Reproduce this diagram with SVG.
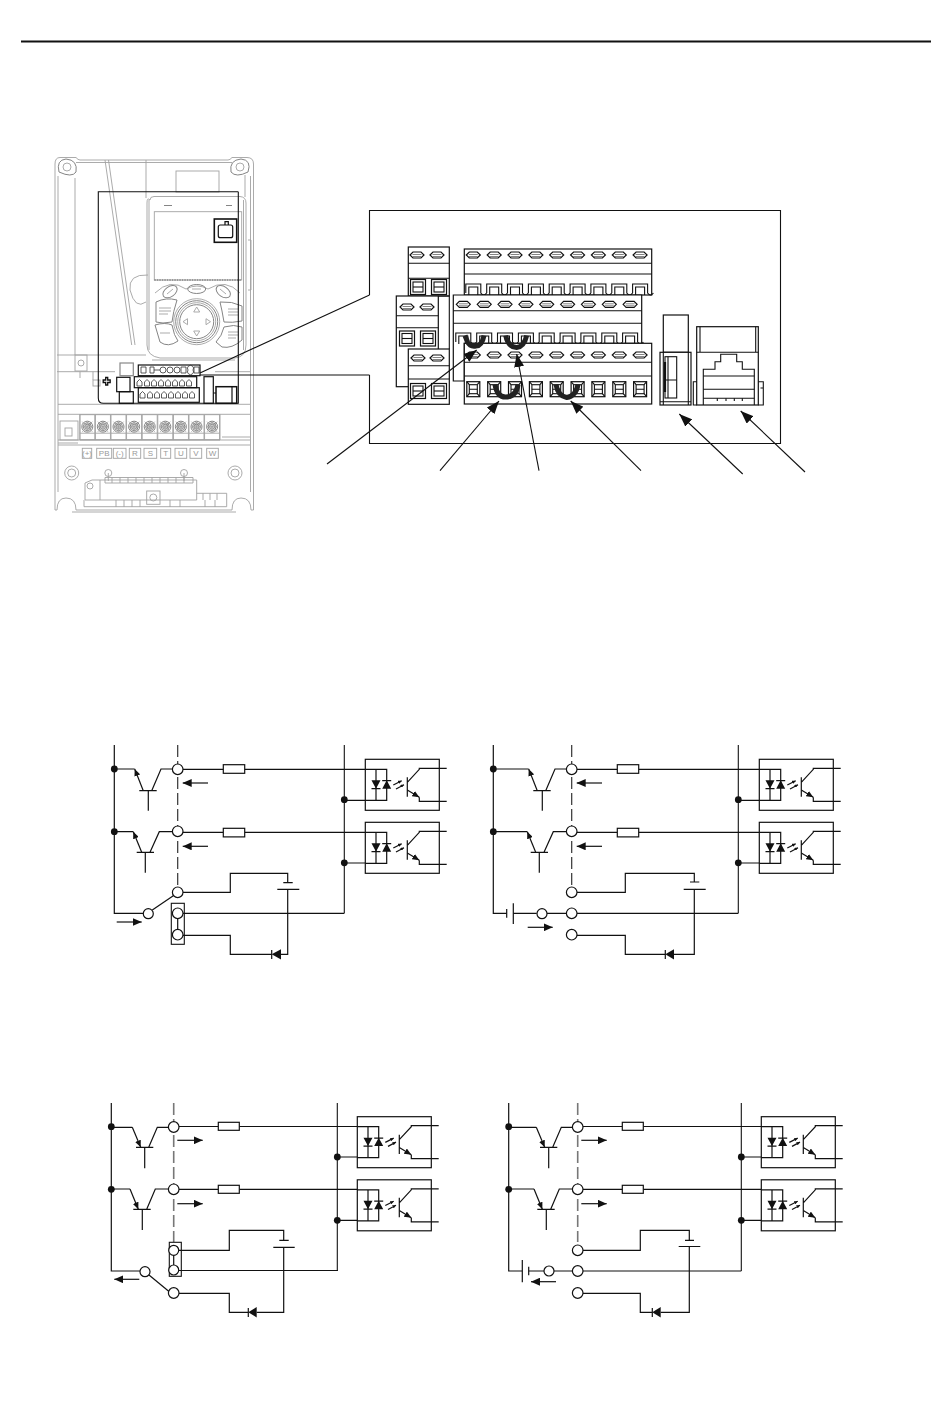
<svg xmlns="http://www.w3.org/2000/svg" xmlns:xlink="http://www.w3.org/1999/xlink" width="950" height="1424" viewBox="0 0 950 1424">
<style>
.k{fill:none;stroke:#111;stroke-width:1.1}
.w{fill:#fff;stroke:#111;stroke-width:1.2}
.t{fill:none;stroke:#111;stroke-width:1.2}
.g{fill:none;stroke:#a2a2a2;stroke-width:.9}
.gd{fill:none;stroke:#858585;stroke-width:1}
.s{fill:#111;stroke:none}
.j{fill:none;stroke:#222;stroke-width:5}
.dash{fill:none;stroke:#333;stroke-width:1.2;stroke-dasharray:12 4}
.dash2{fill:none;stroke:#777;stroke-width:1.6;stroke-dasharray:12 4}
.lab{font-family:"Liberation Sans",Arial,sans-serif;font-size:8px;fill:#999;text-anchor:middle}
</style>
<defs>
<marker id="ah" markerUnits="userSpaceOnUse" markerWidth="9" markerHeight="8" refX="9" refY="4" orient="auto"><path d="M0 0L9 4L0 8Z" fill="#111"/></marker>
<marker id="ahl" markerUnits="userSpaceOnUse" markerWidth="13" markerHeight="10" refX="13" refY="5" orient="auto"><path d="M0 0L13 5L0 10Z" fill="#111"/></marker>
<marker id="aht" markerUnits="userSpaceOnUse" markerWidth="7" markerHeight="6" refX="7" refY="3" orient="auto"><path d="M0 0L7 3L0 6Z" fill="#111"/></marker>
<marker id="ahp" markerUnits="userSpaceOnUse" markerWidth="3.500" markerHeight="3.500" refX="3.500" refY="1.750" orient="auto"><path d="M0 0L3.500 1.750L0 3.500Z" fill="#111"/></marker>
<g id="opto">
<rect class="t" width="74" height="51"/>
<path class="t" d="M0 10H21.4V41H0M10.700 10V41"/>
<path class="s" d="M6.200 21H15.200L10.700 29.400ZM16.900 29.400H25.900L21.400 21Z"/>
<path class="t" d="M6.200 29.400H15.200M16.900 21.400H25.900"/>
<path class="t" marker-end="url(#ahp)" d="M28 25.700L36.400 21.400"/>
<path class="t" marker-end="url(#ahp)" d="M30.700 29.700L38.700 25.400"/>
<path class="t" d="M42 18V37.400M42 23L54 10V9H81.400M54 38V42H81.400"/>
<path class="t" marker-end="url(#aht)" d="M42 30.700L54 38"/>
</g>
<g id="ov"><path class="w" stroke-width="1" d="M-7 0L-4 -3H4L7 0L4 3H-4Z"/><path class="gd" d="M-4.500 -.500H4.500M-4.500 1.500H4.500"/></g>
<g id="cl"><path class="k" d="M-7.500 9V0H7.500V9Q10.400 13 13.300 9"/><path class="k" d="M-4.500 11V3H4.500V11"/></g>
<g id="sq"><rect class="w" stroke-width="1" x="-6.500" y="-7.500" width="13" height="15"/><rect class="k" x="-4" y="-4.500" width="8" height="9"/><path class="k" d="M-4 0H4M-6.500 -7.500L-4 -4.500M6.500 -7.500L4 -4.500M-6.500 7.500L-4 4.500M6.500 7.500L4 4.500"/></g>
<g id="sqb"><rect class="w" stroke-width="1" x="-7.500" y="-7.500" width="15" height="15"/><rect class="k" x="-5" y="-5" width="10" height="10"/><path class="k" d="M-5 0H5"/></g>
<g id="scr"><rect class="g" x="-7.500" y="-12" width="15" height="25"/><circle class="gd" r="5.500"/><circle class="gd" r="4"/><circle class="gd" r="2.500"/><path class="g" d="M-5 -5L5 5M-5 5L5 -5M-5 0H5M0 -5V5M-7.500 6.500H7.500"/></g>

<g id="stage-top">
<path class="k" d="M344.300 745V913.300"/>
<path class="t" d="M183 769.300H223.300M244.700 769.300H365.300M183 832.300H223.300M244.700 832.300H365.300M344.300 800.300H365.300M344.300 863H365.300"/>
<path class="dash" d="M177.700 745V889"/>
<g id="a-npn1"><path class="t" marker-end="url(#aht)" d="M143.300 790.700L134.700 769"/><path class="t" d="M151.700 790.700L161 769H172.400M139.300 790.700H156.700M148.300 790.700V810.700"/></g>
<g id="a-npn2"><path class="t" marker-end="url(#aht)" d="M141.700 852.300L133.300 831.700"/><path class="t" d="M150 852.300L159.300 831.700H172.400M136.700 852.300H154M145.300 852.300V872.700"/></g>
<circle class="w" cx="177.700" cy="769.300" r="5.300"/>
<circle class="w" cx="177.700" cy="831.300" r="5.300"/>
<rect class="w" x="223.300" y="764.700" width="21.400" height="8.600"/>
<rect class="w" x="223.300" y="828.300" width="21.400" height="8.600"/>
<path class="t" marker-end="url(#ah)" d="M208 783H182.700"/>
<path class="t" marker-end="url(#ah)" d="M208 846.300H182.700"/>
<circle class="s" cx="344.300" cy="799.700" r="3.400"/>
<circle class="s" cx="344.300" cy="862.800" r="3.400"/>
<use href="#opto" xlink:href="#opto" x="365.300" y="759.300"/>
<use href="#opto" xlink:href="#opto" x="365.300" y="822.300"/>
</g>

<g id="stage-bottom">
<path class="k" d="M337.300 1103V1271"/>
<path class="t" d="M179 1126.500H218.300M239.300 1126.500H357.300M179 1189.300H218.300M239.300 1189.300H357.300M337.300 1157H357.300M337.300 1220.300H357.300"/>
<path class="dash2" d="M173.700 1103V1242"/>
<g id="c-pnp1"><path class="t" marker-end="url(#aht)" d="M132.300 1127.300L140.700 1147.300"/><path class="t" d="M148.700 1147.300L157.300 1127.300H168.400M136 1147.300H153.300M144.700 1147.300V1168.300"/></g>
<g id="c-pnp2"><path class="t" marker-end="url(#aht)" d="M130 1189L138.300 1209.300"/><path class="t" d="M146.700 1209.300L155.300 1189H168.400M133.300 1209.300H150.700M142.300 1209.300V1230"/></g>
<circle class="w" cx="173.700" cy="1127" r="5.300"/>
<circle class="w" cx="173.700" cy="1189.300" r="5.300"/>
<rect class="w" x="218.300" y="1122.300" width="21" height="8"/>
<rect class="w" x="218.300" y="1185.300" width="21" height="8"/>
<path class="t" marker-end="url(#ah)" d="M177.300 1140.300H202.700"/>
<path class="t" marker-end="url(#ah)" d="M177.300 1203.700H202.700"/>
<circle class="s" cx="337.300" cy="1157" r="3.400"/>
<circle class="s" cx="337.300" cy="1220.300" r="3.400"/>
<use href="#opto" xlink:href="#opto" x="357.300" y="1116.700"/>
<use href="#opto" xlink:href="#opto" x="357.300" y="1179.800"/>
</g>
</defs>

<rect width="950" height="1424" fill="#fff"/>
<path id="top-rule" d="M21 41.500H931" stroke="#111" stroke-width="2" fill="none"/>

<g id="device">
<path class="g" d="M60 157.500H76Q78 160 80 160H228Q230 160 232 157.500H247Q253.500 157.500 253.500 164V510H251Q251 498 241 498Q232 498 232 510H76Q76 498 66 498Q57 498 57 510H55V164Q55 157.500 60 157.500Z"/>
<path class="g" d="M58 176V492M250.500 176V492M76 162.500H232M72 512H236"/>
<path class="gd" d="M59 172Q56 160 66 159Q78 160 76 172Q72 178 59 172ZM248 172Q252 160 241 159Q229 160 231 172Q236 178 248 172Z"/>
<circle class="g" cx="67" cy="167" r="4"/><circle class="g" cx="240" cy="167" r="4"/>
<path class="g" d="M75 178V355M245 175V197"/>
<path class="g" d="M105 160L131.700 345M146 160V198M108.500 160L135 345"/>
<rect class="g" x="176" y="171" width="43" height="21"/>
<path class="g" d="M150 200Q150 196.500 154 196.500H240Q246 197 246 203V345Q246 357 235 358H160Q147 356 147 345V203Q147 197 150 200"/>
<path class="g" d="M149 200V350M243.500 200V350M152 360H235"/>
<rect class="g" x="154.300" y="211.700" width="87.400" height="68.300"/>
<path class="gd" d="M164 205.500H172M226 205.500H232"/>
<path d="M154.300 280H241.700" stroke="#858585" stroke-width="1.600" stroke-dasharray="1.500 1" fill="none"/>
<path class="g" d="M130 290Q128 274 148 275M130 290Q135 310 146 302M248 240H251V290H248"/>
<g id="keypad">
<path class="g" d="M155 293Q170 278 186 289Q197 283 208 289Q226 278 240 293"/>
<ellipse class="gd" cx="170" cy="291.700" rx="8" ry="5" transform="rotate(-35 170 291.700)"/>
<ellipse class="gd" cx="196.700" cy="289" rx="9" ry="4.500"/>
<ellipse class="gd" cx="223.300" cy="291.700" rx="8" ry="5" transform="rotate(35 223.300 291.700)"/>
<path class="g" d="M192 289H201M167 294L173 289M220 289L226 294"/>
<circle class="gd" cx="196.700" cy="321.700" r="17"/><circle class="g" cx="196.700" cy="321.700" r="19"/><circle class="gd" cx="196.700" cy="321.700" r="21"/><circle class="g" cx="196.700" cy="321.700" r="23"/>
<path class="g" d="M196.700 307L193.700 312H199.700ZM196.700 336L193.700 331H199.700ZM183 321.700L187.500 318.700V324.700ZM210.500 321.700L206 318.700V324.700Z"/>
<path class="gd" d="M156 302Q166 297 177 300Q173 312 172 322Q162 324 156 322Z"/>
<path class="gd" d="M155 325Q165 322 172 325Q174 336 178 341Q168 348 160 342Z"/>
<path class="gd" d="M220 302Q232 301 242 306V321Q232 323 224 322Q222 310 220 302Z"/>
<path class="gd" d="M216 342Q222 336 224 327Q234 324 242 327V340Q232 349 222 347Z"/>
<path class="g" d="M159 308H171M159 311H171M159 314H168M228 309H238M228 312H238M228 315H238M160 333H170M228 332H238M228 335H238M228 338H236"/>
</g>
<path class="g" d="M57 355H146M57 371.700H115M215 371.700H250M58 404.300H250M58 414.300H250M58 440H250M58 445H250M58 443H78M222 437H250"/>
<rect class="g" x="75" y="355" width="12" height="16"/><circle class="g" cx="81" cy="363" r="3"/>
<path class="g" d="M93 371.700V380M80 371.700V378"/>
<rect class="g" x="93" y="380" width="7" height="6"/>

<path id="device-outline" class="k" d="M238.300 191.700H98.300V398Q98.300 403.300 103.300 403.300H238.300V191.700"/>
<g id="device-bezel" fill="none" stroke="#111" stroke-width="1.200">
<rect x="214.300" y="219" width="22.400" height="23.300" stroke-width="1.600"/>
<rect x="218.300" y="225" width="14.400" height="12.700" rx="2"/>
<path d="M225 225V221.700H228.300V225"/>
<path d="M105.700 377.500h2v2.500h2.500v2.500h-2.500v2.500h-2v-2.500h-2.500v-2.500h2.500z" stroke-width="1.300"/>
<rect x="120" y="363" width="13.300" height="12.700" stroke="#888"/>
<rect x="116.700" y="377.300" width="13.300" height="14.400"/>
<rect x="119.300" y="391.700" width="14" height="11.600"/>
<rect x="138.300" y="365" width="61.700" height="10.700"/>
<rect x="134.300" y="376.700" width="62.400" height="11"/>
<rect x="138.300" y="387.700" width="61" height="14.600"/>
<rect x="204" y="376.700" width="9.300" height="26.600"/>
<rect x="216" y="386.700" width="20.700" height="16.600" stroke-width="1.500"/>
<path d="M213.300 393H216M232 386.700V403"/>
</g>
<g id="device-terminals" fill="none" stroke="#333" stroke-width=".8">
<path d="M141 367H146V373H141ZM150 367H154V373H150ZM154 370H160M160 370a3 3 0 1 0 6 0a3 3 0 1 0 -6 0M167 370a3 3 0 1 0 6 0a3 3 0 1 0 -6 0M174 370a3 3 0 1 0 6 0a3 3 0 1 0 -6 0M181 367H186V373H181ZM188 370a3 3 0 1 0 5 0a3 3 0 1 0 -5 0M194 367H199V373H194Z"/>
<path id="device-row2" d="M137 386V382L139.500 379.500L142 382V386ZM144.500 386V382L147 379.500L149.500 382V386ZM151.500 386V382L154 379.500L156.500 382V386ZM158.500 386V382L161 379.500L163.500 382V386ZM165.500 386V382L168 379.500L170.500 382V386ZM172.500 386V382L175 379.500L177.500 382V386ZM179.500 386V382L182 379.500L184.500 382V386ZM186.500 386V382L189 379.500L191.500 382V386Z"/>
<use href="#device-row2" xlink:href="#device-row2" x="3" y="12"/>
</g>
<path class="g" d="M80 414.300V440H220V414.300"/>
<use href="#scr" xlink:href="#scr" x="87.300" y="426.700"/><use href="#scr" xlink:href="#scr" x="102.900" y="426.700"/><use href="#scr" xlink:href="#scr" x="118.500" y="426.700"/><use href="#scr" xlink:href="#scr" x="134.100" y="426.700"/><use href="#scr" xlink:href="#scr" x="149.700" y="426.700"/><use href="#scr" xlink:href="#scr" x="165.300" y="426.700"/><use href="#scr" xlink:href="#scr" x="180.900" y="426.700"/><use href="#scr" xlink:href="#scr" x="196.500" y="426.700"/><use href="#scr" xlink:href="#scr" x="212.100" y="426.700"/>
<rect class="g" x="60" y="421" width="18" height="19"/><rect class="g" x="65" y="428" width="7" height="8"/>
<g id="device-labels">
<rect class="g" x="82.300" y="448.300" width="9.400" height="10"/><rect class="g" x="96.700" y="448.300" width="15" height="10"/><rect class="g" x="113.300" y="448.300" width="12.700" height="10"/><rect class="g" x="129.300" y="448.300" width="11.400" height="10"/><rect class="g" x="144" y="448.300" width="12.700" height="10"/><rect class="g" x="160.700" y="448.300" width="10" height="10"/><rect class="g" x="175" y="448.300" width="11.700" height="10"/><rect class="g" x="190" y="448.300" width="11.700" height="10"/><rect class="g" x="206.700" y="448.300" width="11.600" height="10"/>
<text class="lab" x="87" y="456.300">(+)</text><text class="lab" x="104.200" y="456.300">PB</text><text class="lab" x="119.700" y="456.300">(-)</text><text class="lab" x="135" y="456.300">R</text><text class="lab" x="150.300" y="456.300">S</text><text class="lab" x="165.700" y="456.300">T</text><text class="lab" x="180.800" y="456.300">U</text><text class="lab" x="195.800" y="456.300">V</text><text class="lab" x="212.500" y="456.300">W</text>
</g>
<circle class="g" cx="71.700" cy="473" r="7"/><circle class="g" cx="71.700" cy="473" r="4"/>
<circle class="g" cx="235" cy="473" r="7"/><circle class="g" cx="235" cy="473" r="4"/>
<circle class="g" cx="108.300" cy="473" r="3.500"/><circle class="g" cx="184" cy="473" r="3.500"/>
<path class="g" d="M108.300 473V481M184 473V481"/>
<path class="g" d="M85 483L92 480H100V500H85ZM100 480H196.700V500H100M196.700 493.300H226.700V506.700H84V500"/>
<path class="g" d="M105 477.500H193V483H105ZM112 477.500V483M120 477.500V483M128 477.500V483M136 477.500V483M144 477.500V483M152 477.500V483M160 477.500V483M168 477.500V483M176 477.500V483M184 477.500V483M203 493.300V500M210 493.300V500M217 493.300V500M116 500V507M124 500V507M132 500V507M140 500V507M170 500V507M180 500V507M205 500V507M215 500V507"/>
<circle class="g" cx="90" cy="486" r="3"/>
<rect class="g" x="146.700" y="491" width="13.300" height="13.300"/><circle class="g" cx="153.300" cy="497.500" r="3.500"/>
</g>

<g id="leader-panel" fill="none" stroke="#111" stroke-width="1.100">
<path d="M369.500 295V210.500H780.500V443.500H369.500V375M369.500 295L200 373M369.500 375H200"/>
</g>

<g id="terminal-blocks">
<g id="tb-left">
<rect class="w" stroke-width="1" x="408.300" y="247" width="41" height="49"/>
<path class="k" d="M408.300 263.300H449.300M408.300 278.300H449.300"/>
<use href="#ov" xlink:href="#ov" x="417" y="255"/><use href="#ov" xlink:href="#ov" x="437" y="255"/>
<use href="#sqb" xlink:href="#sqb" x="418" y="287"/><use href="#sqb" xlink:href="#sqb" x="439" y="287"/>
<path class="k" d="M438.300 296H449.300V349"/>
<rect class="w" stroke-width="1" x="396.300" y="296" width="42" height="90.700"/>
<path class="k" d="M396.300 315.700H438.300M396.300 327.700H438.300"/>
<use href="#ov" xlink:href="#ov" x="407" y="307"/><use href="#ov" xlink:href="#ov" x="427" y="307"/>
<use href="#sqb" xlink:href="#sqb" x="407" y="338.500"/><use href="#sqb" xlink:href="#sqb" x="428" y="338.500"/>
<rect class="w" stroke-width="1" x="408.300" y="349" width="41" height="55.300"/>
<path class="k" d="M408.300 365.700H449.300M408.300 379H449.300"/>
<use href="#ov" xlink:href="#ov" x="418" y="358"/><use href="#ov" xlink:href="#ov" x="437" y="358"/>
<use href="#sqb" xlink:href="#sqb" x="418" y="391"/><use href="#sqb" xlink:href="#sqb" x="439" y="391"/>
</g>
<g id="tb-main">
<rect class="w" stroke-width="1" x="464.300" y="249" width="187.400" height="46"/>
<path class="k" d="M464.300 263.300H651.700M464.300 274H651.700"/>
<g id="row-top-ov"><use href="#ov" xlink:href="#ov" x="473.300" y="255"/><use href="#ov" xlink:href="#ov" x="494.200" y="255"/><use href="#ov" xlink:href="#ov" x="515" y="255"/><use href="#ov" xlink:href="#ov" x="535.900" y="255"/><use href="#ov" xlink:href="#ov" x="556.700" y="255"/><use href="#ov" xlink:href="#ov" x="577.600" y="255"/><use href="#ov" xlink:href="#ov" x="598.400" y="255"/><use href="#ov" xlink:href="#ov" x="619.300" y="255"/><use href="#ov" xlink:href="#ov" x="640.100" y="255"/></g>
<g id="row-top-cl"><use href="#cl" xlink:href="#cl" x="473.300" y="284"/><use href="#cl" xlink:href="#cl" x="494.200" y="284"/><use href="#cl" xlink:href="#cl" x="515" y="284"/><use href="#cl" xlink:href="#cl" x="535.900" y="284"/><use href="#cl" xlink:href="#cl" x="556.700" y="284"/><use href="#cl" xlink:href="#cl" x="577.600" y="284"/><use href="#cl" xlink:href="#cl" x="598.400" y="284"/><use href="#cl" xlink:href="#cl" x="619.300" y="284"/><use href="#cl" xlink:href="#cl" x="640.100" y="284"/></g>
<path class="w" stroke-width="1" d="M453.300 381V295H641.700V343.300H464.300V381Z"/>
<path class="k" d="M453.300 310.700H641.700M453.300 323.300H641.700"/>
<use href="#row-top-ov" xlink:href="#row-top-ov" x="-10" y="49.300"/>
<use href="#row-top-cl" xlink:href="#row-top-cl" x="-10" y="49"/>
<rect class="w" stroke-width="1" x="464.300" y="343.300" width="187.400" height="60.700"/>
<path class="k" d="M464.300 362.300H651.700M464.300 376H651.700"/>
<use href="#row-top-ov" xlink:href="#row-top-ov" y="100"/>
<use href="#sq" xlink:href="#sq" x="473.300" y="389.200"/><use href="#sq" xlink:href="#sq" x="494.200" y="389.200"/><use href="#sq" xlink:href="#sq" x="515" y="389.200"/><use href="#sq" xlink:href="#sq" x="535.900" y="389.200"/><use href="#sq" xlink:href="#sq" x="556.700" y="389.200"/><use href="#sq" xlink:href="#sq" x="577.600" y="389.200"/><use href="#sq" xlink:href="#sq" x="598.400" y="389.200"/><use href="#sq" xlink:href="#sq" x="619.300" y="389.200"/><use href="#sq" xlink:href="#sq" x="640.100" y="389.200"/>
</g>
<g id="usb">
<rect class="w" stroke-width="1" x="663.300" y="315" width="25" height="37.300"/>
<rect class="w" stroke-width="1" x="660" y="352.300" width="31" height="52.700"/>
<path class="k" d="M663.300 352.300V405M688.300 352.300V405M660 401.700H691"/>
<rect class="k" x="665" y="356.700" width="11.700" height="41.300"/>
<path class="k" d="M668 356.700V398M665 380H676.700"/>
<path d="M665 362V392" stroke="#111" stroke-width="2.200"/>
</g>
<g id="rj45">
<rect class="w" stroke-width="1" x="696.700" y="326.700" width="61.600" height="78.300"/>
<path class="k" d="M696.700 352.300H758.300M700 326.700V352.300M755.700 326.700V352.300"/>
<path class="k" d="M703.300 405V369.300H715V361.700H720.700V354.300H736.700V361.700H742.300V369.300H754.300V405"/>
<path class="k" d="M703.300 398.300H754.300M703.300 389.300H754.300M703.300 376H754.300"/>
<path class="k" d="M717.300 398.300V401M726 398.300V401M734.300 398.300V401M742.300 398.300V401" stroke-width="1.600"/>
<path class="k" d="M696.700 381.700H693.300V405H696.700M758.300 381.700H763.300V405H758.300M760.500 388H763.300"/>
</g>
</g>

<g id="jumpers">
<path class="j" d="M465 335.500L467.500 342Q470 347 476 346Q482 346 484 335.500"/>
<path class="j" d="M505.700 335.500Q508 347 516.700 347.500Q524 347 526.700 335.500"/>
<path class="j" d="M495 384.500Q497 397 505.500 397Q516 397 518 384.500"/>
<path class="j" d="M556 384.500Q558 396 566.700 397.500Q576 396 578 384.500"/>
</g>

<g id="leaders" fill="none" stroke="#111" stroke-width="1.100">
<path marker-end="url(#ahl)" d="M327 464L476.700 350"/>
<path marker-end="url(#ahl)" d="M440 470.700L499 401"/>
<path marker-end="url(#ahl)" d="M539 470.700L516.700 354"/>
<path marker-end="url(#ahl)" d="M641 470.700L570.700 401"/>
<path marker-end="url(#ahl)" d="M742.700 474L679.300 414"/>
<path marker-end="url(#ahl)" d="M805 472L740.700 411"/>
</g>

<g id="circuit-a">
<g id="a-connectors">
<path class="t" d="M114.300 745V913.300H143.300M114.300 769H134.700M114.300 831.700H133.300"/>
<path class="t" d="M183 892.300H230.300V873.300H287.700V882.700M287.700 889.300V954.300H281M271.700 954.300H230.300V935.300H183M183 913.300H344.300M177.700 919V929"/>
<path class="t" d="M152.300 910L173.300 895.700"/>
</g>
<use href="#stage-top" xlink:href="#stage-top"/>
<g id="a-rail-dots"><circle class="s" cx="114.300" cy="769" r="3.400"/><circle class="s" cx="114.300" cy="831.700" r="3.400"/></g>
<g id="a-battery"><path class="t" d="M283.300 882.700H292.700M277.300 889.300H299.300"/></g>
<g id="a-diode"><path class="s" d="M271.700 954.300L281 949.200V959.500Z"/><path class="t" d="M271.700 950V959"/></g>
<g id="a-switch"><circle class="w" cx="148.300" cy="913.700" r="5"/><circle class="w" cx="177.700" cy="892.300" r="5.300"/><path class="t" marker-end="url(#ah)" d="M116.700 922H141.700"/></g>
<g id="a-jumper"><rect class="k" x="171.300" y="903.300" width="13" height="41"/><circle class="w" cx="177.700" cy="913.300" r="5.300"/><circle class="w" cx="177.700" cy="934.700" r="5.300"/></g>
</g>

<g id="circuit-b">
<g id="b-connectors">
<path class="t" d="M493.300 745V913.300H506.700M513.300 913.300H536.700M547 913.300H566.400M493.300 769H528.700M493.300 831.700H527.300"/>
<path class="t" d="M577 892.300H625.300V873.300H694.300V882M694.300 889.300V954.300H674M665.300 954.300H625.300V935.300H577M577 913.300H738.300"/>
</g>
<use href="#stage-top" xlink:href="#stage-top" x="394"/>
<g id="b-rail-dots"><circle class="s" cx="493.300" cy="769" r="3.400"/><circle class="s" cx="493.300" cy="831.700" r="3.400"/></g>
<g id="b-battery"><path class="t" d="M690 882H699.300M683.700 889.300H705.700"/></g>
<g id="b-diode"><path class="s" d="M665.300 954.300L674 949.200V959.500Z"/><path class="t" d="M665.300 950V959"/></g>
<g id="b-source"><path class="t" d="M506.700 909V917.700M513.300 903.300V924"/><circle class="w" cx="542" cy="913.700" r="5"/><path class="t" marker-end="url(#ah)" d="M527.700 927.300H552.700"/></g>
<g id="b-terminals"><circle class="w" cx="571.700" cy="892.300" r="5.300"/><circle class="w" cx="571.700" cy="913.300" r="5.300"/><circle class="w" cx="571.700" cy="934.700" r="5.300"/></g>
</g>

<g id="circuit-c">
<g id="c-connectors">
<path class="t" d="M111.300 1103V1271H140M111.300 1127.300H132.300M111.300 1189H130"/>
<path class="t" d="M179 1250.300H229.300V1230.300H283.700V1240.300M283.700 1247.300V1312.300H256.700M248.300 1312.300H229.300V1293.300H179M179 1270.500H337.300V1271M173.700 1255V1265"/>
<path class="t" d="M149 1275L169.300 1291.700"/>
</g>
<use href="#stage-bottom" xlink:href="#stage-bottom"/>
<g id="c-rail-dots"><circle class="s" cx="111.300" cy="1126.700" r="3.400"/><circle class="s" cx="111.300" cy="1189.300" r="3.400"/></g>
<g id="c-battery"><path class="t" d="M279.300 1240.300H288.700M273.300 1247.300H294.700"/></g>
<g id="c-diode"><path class="s" d="M248.300 1312.300L256.700 1307V1317.500Z"/><path class="t" d="M248.300 1308V1317"/></g>
<g id="c-switch"><circle class="w" cx="145" cy="1271.700" r="5"/><circle class="w" cx="173.700" cy="1293" r="5.300"/><path class="t" marker-end="url(#ah)" d="M139.300 1279.300H114.300"/></g>
<g id="c-jumper"><rect class="k" x="169.300" y="1242.300" width="12" height="34"/><circle class="w" cx="173.700" cy="1250.300" r="5"/><circle class="w" cx="173.700" cy="1270" r="5"/></g>
</g>

<g id="circuit-d">
<g id="d-connectors">
<path class="t" d="M508.700 1103V1271H522.300M528.700 1271H544M554 1271H572.500M508.700 1127.300H536.300M508.700 1189H534"/>
<path class="t" d="M583 1250.300H640.300V1230.300H689.300V1240.300M689.300 1246.500V1312.300H660.700M652.300 1312.300H640.300V1293.300H583M583 1271H741.300"/>
</g>
<use href="#stage-bottom" xlink:href="#stage-bottom" x="404"/>
<g id="d-rail-dots"><circle class="s" cx="508.700" cy="1126.700" r="3.400"/><circle class="s" cx="508.700" cy="1189.300" r="3.400"/></g>
<g id="d-battery"><path class="t" d="M685 1240.300H694M678.700 1246.500H700.300"/></g>
<g id="d-diode"><path class="s" d="M652.300 1312.300L660.700 1307V1317.500Z"/><path class="t" d="M652.300 1308V1317"/></g>
<g id="d-source"><path class="t" d="M522.300 1260V1282.300M528.700 1266.700V1275.300"/><circle class="w" cx="549" cy="1271" r="5"/><path class="t" marker-end="url(#ah)" d="M556 1281.700H531"/></g>
<g id="d-terminals"><circle class="w" cx="577.700" cy="1250.300" r="5.300"/><circle class="w" cx="577.700" cy="1271" r="5.300"/><circle class="w" cx="577.700" cy="1293" r="5.300"/></g>
</g>
</svg>
